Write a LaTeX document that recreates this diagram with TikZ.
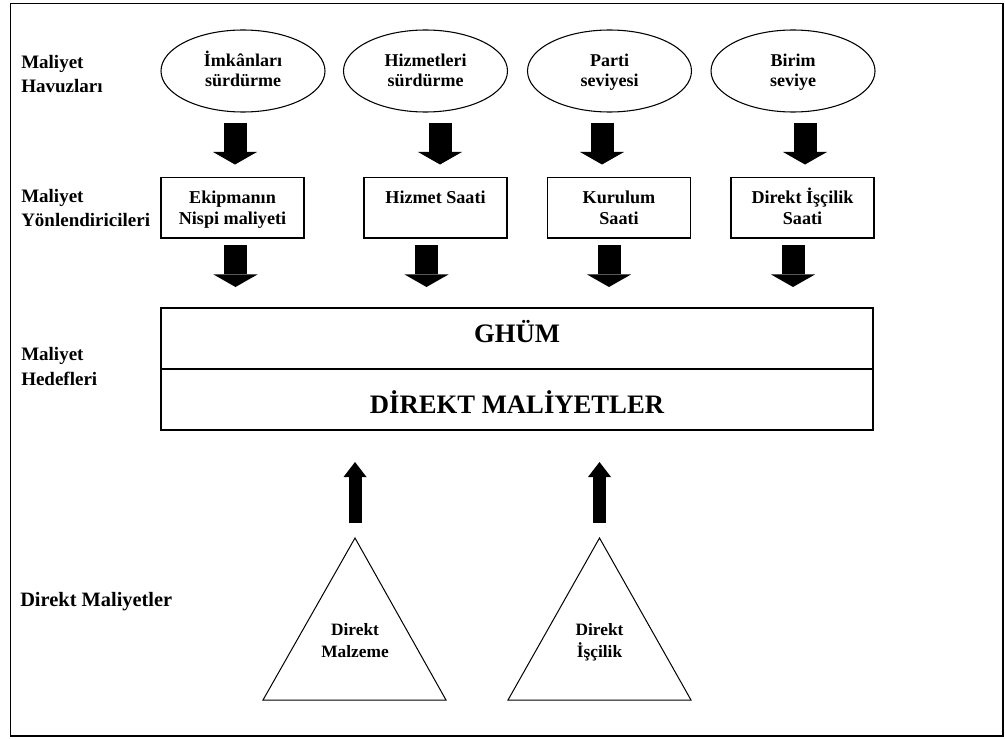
\documentclass[tikz,border=0pt]{standalone}
\usepackage{fontspec}
\setmainfont{Liberation Serif}
\usetikzlibrary{arrows.meta,shapes.geometric}

% equal line heights in two-line labels
\newcommand\topline{\vphantom{İk}}
\newcommand\botline{\vphantom{p}}

\begin{document}
\begin{tikzpicture}[x=0.75pt,y=-0.75pt,
  side/.style={anchor=west,inner sep=0pt,align=left,
    font=\bfseries\fontsize{14.25}{18.4}\selectfont},
  pool/.style={ellipse,draw,line width=0.8pt,minimum width=123pt,
    minimum height=61.5pt,inner sep=0pt,align=center,
    font=\bfseries\fontsize{13.5}{15}\selectfont},
  driver/.style={rectangle,draw,line width=0.8pt,minimum width=107.25pt,
    minimum height=45.4pt,inner sep=0pt,align=center,
    font=\bfseries\fontsize{13.6}{15.75}\selectfont},
  target/.style={rectangle,draw,line width=0.9pt,minimum width=534pt,
    minimum height=45.75pt,inner sep=0pt,
    font=\bfseries\fontsize{20}{24}\selectfont},
  tritext/.style={inner sep=0pt,align=center,
    font=\bfseries\fontsize{13}{17}\selectfont},
  tri/.style={draw,line width=0.75pt,line join=miter},
  bigdown/.style={line width=17.25pt,
    -{Triangle[width=33pt,length=9.4pt,line width=0pt]}},
  bigup/.style={line width=9.75pt,
    -{Triangle[width=17.25pt,length=11.25pt,line width=0pt]}}]

\useasboundingbox (0,0) rectangle (1005,738);
\fill[white] (0,0) rectangle (1005,738);

% outer frame
\draw[line width=1.2pt] (10.5,3.5) rectangle (1003,736);

% row labels
\node[side] (lab1) at (21,74) {Maliyet\\Havuzları};
\node[side] (lab2) at (21,208) {Maliyet\\Yönlendiricileri};
\node[side] (lab3) at (21,366.5) {Maliyet\\Hedefleri};
\node[side,anchor=base west,font=\bfseries\fontsize{15.3}{18.4}\selectfont]
  (lab4) at (20,606) {Direkt Maliyetler};

% cost pools
\node[pool] (p1) at (243,71) {\topline İmkânları\\sürdürme\botline};
\node[pool] (p2) at (425.5,71) {\topline Hizmetleri\\sürdürme\botline};
\node[pool] (p3) at (609.5,71) {\topline Parti\\seviyesi\botline};
\node[pool] (p4) at (793,71) {\topline Birim\\seviye\botline};

% cost drivers
\node[driver] (d1) at (232.5,207.75) {\topline Ekipmanın\\Nispi maliyeti\botline};
\node[driver] (d2) at (435.5,207.75) {\topline Hizmet Saati\\\botline};
\node[driver] (d3) at (619,207.75) {\topline Kurulum\\Saati\botline};
\node[driver] (d4) at (802.5,207.75) {\topline Direkt İşçilik\\Saati\botline};

% cost objects
\node[target,text height=15pt,text depth=9.75pt] (ghum) at (517,338.5) {GHÜM};
\node[target,text height=22pt,text depth=1.75pt] (dm) at (517,399.5) {DİREKT MALİYETLER};

% direct costs
\coordinate (t1a) at (355,538);
\coordinate (t1l) at (263,700);
\coordinate (t1r) at (446,700);
\coordinate (t2a) at (599.5,538);
\coordinate (t2l) at (508,700);
\coordinate (t2r) at (691,700);
\draw[tri] (t1a) -- (t1l) -- (t1r) -- cycle;
\draw[tri] (t2a) -- (t2l) -- (t2r) -- cycle;
\node[tritext] (m1) at (355,641) {\topline Direkt\\Malzeme\botline};
\node[tritext] (m2) at (599.5,641) {\topline Direkt\\İşçilik\botline};

% arrow ends
\coordinate (a1s) at (235,123);   \coordinate (a1e) at (235,164.5);
\coordinate (a2s) at (440,123);   \coordinate (a2e) at (440,164.5);
\coordinate (a3s) at (602,123);   \coordinate (a3e) at (602,164.5);
\coordinate (a4s) at (805,123);   \coordinate (a4e) at (805,164.5);
\coordinate (b1s) at (235.5,245); \coordinate (b1e) at (235.5,287);
\coordinate (b2s) at (426.5,245); \coordinate (b2e) at (426.5,287);
\coordinate (b3s) at (609,245);   \coordinate (b3e) at (609,287);
\coordinate (b4s) at (793,245);   \coordinate (b4e) at (793,287);
\coordinate (u1s) at (355,523);   \coordinate (u1e) at (355,462);
\coordinate (u2s) at (599.5,523); \coordinate (u2e) at (599.5,462);

% pools to drivers
\draw[bigdown] (a1s) -- (a1e);
\draw[bigdown] (a2s) -- (a2e);
\draw[bigdown] (a3s) -- (a3e);
\draw[bigdown] (a4s) -- (a4e);
% drivers to cost objects
\draw[bigdown] (b1s) -- (b1e);
\draw[bigdown] (b2s) -- (b2e);
\draw[bigdown] (b3s) -- (b3e);
\draw[bigdown] (b4s) -- (b4e);
% direct costs to cost objects
\draw[bigup] (u1s) -- (u1e);
\draw[bigup] (u2s) -- (u2e);
\end{tikzpicture}
\end{document}
